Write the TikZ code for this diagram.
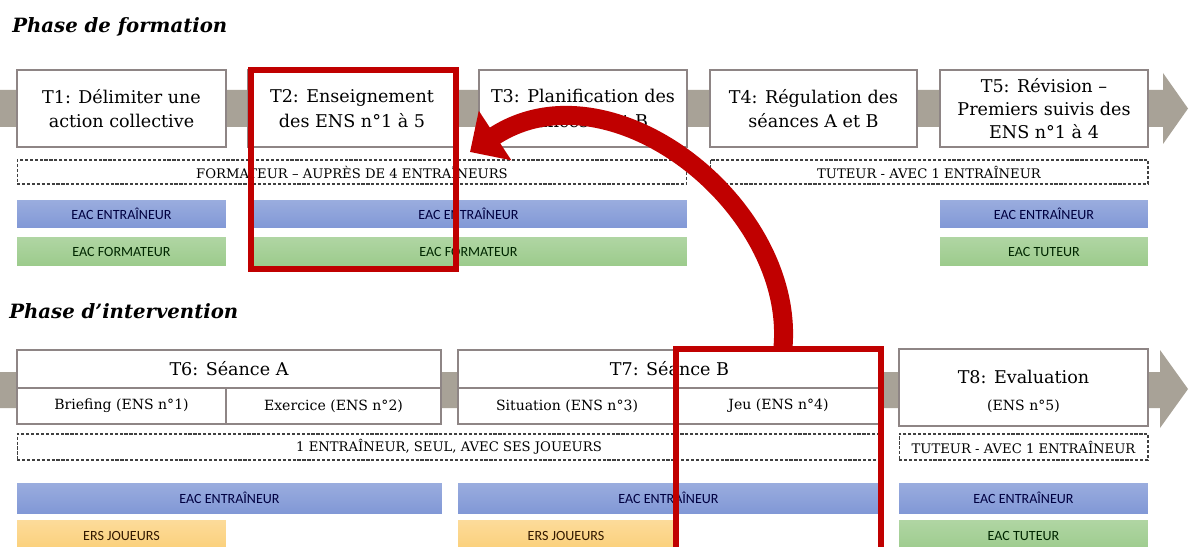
\documentclass[tikz,border=0pt]{standalone}
\usepackage{fontspec}
\setmainfont{DejaVu Serif}
\newfontfamily\barfont{Carlito}
\usepackage{xcolor}
\usepackage{tikz}
\usetikzlibrary{arrows.meta}
\definecolor{bandgray}{HTML}{A8A297}
\definecolor{boxline}{HTML}{8E8585}
\definecolor{eacblue}{HTML}{8198D6}
\definecolor{eacgreen}{HTML}{9CCB8C}
\definecolor{ersorange}{HTML}{FBCF78}
\definecolor{focusred}{HTML}{C00000}

\begin{document}
\begin{tikzpicture}[
    x=0.02cm, y=-0.02cm,
    phase/.style={anchor=west, inner sep=0pt, font=\fontsize{11.2}{13}\selectfont\bfseries\itshape},
    taskbox/.style={draw=boxline, line width=0.8pt, fill=white, align=center, inner sep=1pt, font=\fontsize{10}{14}\selectfont},
    cellbox/.style={draw=boxline, line width=0.8pt, fill=white, inner sep=1pt, minimum height=0.72cm, font=\fontsize{8}{10}\selectfont},
    rolebox/.style={draw=black!75, line width=0.6pt, dash pattern=on 1.8pt off 1pt, fill=white, inner sep=0pt, minimum height=0.48cm, font=\fontsize{7.5}{8}\selectfont},
    bar/.style={inner sep=0pt, minimum height=0.56cm, font=\barfont\fontsize{8}{9}\selectfont},
    eac/.style={bar, top color=eacblue!80!white, bottom color=eacblue, text=blue!25!black},
    eacf/.style={bar, top color=eacgreen!80!white, bottom color=eacgreen, text=green!15!black},
    ers/.style={bar, top color=ersorange!75!white, bottom color=ersorange, text=orange!20!black},
    focusbox/.style={draw=focusred, line width=0.12cm},
    backarrow/.style={draw=focusred, line width=0.38cm, -{Triangle[width=1.15cm, length=0.6cm]}}
]
\clip (0,0) rectangle (1189,547);
\fill[white] (0,0) rectangle (1189,547);

\fill[bandgray] (0,90) -- (1163,90) -- (1163,73) -- (1188,108.5) -- (1163,144) -- (1163,127) -- (0,127) -- cycle;
\fill[bandgray] (0,372) -- (1160,372) -- (1160,350) -- (1188,389) -- (1160,428) -- (1160,408) -- (0,408) -- cycle;

\node[phase] (ph1) at (12,27) {Phase de formation};
\node[phase] (ph2) at (9,311) {Phase d’intervention};

\node[taskbox, minimum width=4.18cm, minimum height=1.54cm] (t1) at (121.5,108.5) {T1: Délimiter une\\action collective};
\node[taskbox, minimum width=4.16cm, minimum height=1.54cm] (t2) at (352,108.5) {T2: Enseignement\\des ENS n°1 à 5};
\node[taskbox, minimum width=4.16cm, minimum height=1.54cm] (t3) at (583,108.5) {T3: Planification des\\séances A et B};
\node[taskbox, minimum width=4.14cm, minimum height=1.54cm] (t4) at (813.5,108.5) {T4: Régulation des\\séances A et B};
\node[taskbox, minimum width=4.16cm, minimum height=1.54cm, font=\fontsize{10}{13}\selectfont] (t5) at (1044,108.5) {T5: Révision –\\Premiers suivis des\\ENS n°1 à 4};

\node[rolebox, minimum width=13.4cm] (r1) at (352,172) {FORMATEUR – AUPRÈS DE 4 ENTRAÎNEURS};
\node[rolebox, minimum width=8.76cm] (r2) at (929,172) {TUTEUR - AVEC 1 ENTRAÎNEUR};

\node[eac, minimum width=4.18cm] (e1) at (121.5,214) {EAC ENTRAÎNEUR};
\node[eac, minimum width=8.74cm] (e2) at (468.5,214) {EAC ENTRAÎNEUR};
\node[eac, minimum width=4.16cm] (e5) at (1044,214) {EAC ENTRAÎNEUR};
\node[eacf, minimum width=4.18cm] (f1) at (121.5,251.5) {EAC FORMATEUR};
\node[eacf, minimum width=8.74cm] (f2) at (468.5,251.5) {EAC FORMATEUR};
\node[eacf, minimum width=4.16cm] (f5) at (1044,251.5) {EAC TUTEUR};

\node[taskbox, minimum width=8.48cm, minimum height=0.76cm] (t6) at (229,369) {T6: Séance A};
\node[cellbox, minimum width=4.18cm] (t6a) at (121.5,406) {Briefing (ENS n°1)};
\node[cellbox, minimum width=4.3cm] (t6b) at (333.5,406) {Exercice (ENS n°2)};
\node[taskbox, minimum width=8.46cm, minimum height=0.76cm] (t7) at (669.5,369) {T7: Séance B};
\node[cellbox, minimum width=4.36cm] (t7a) at (567,406) {Situation (ENS n°3)};
\node[cellbox, minimum width=4.1cm] (t7b) at (778.5,406) {Jeu (ENS n°4)};
\node[taskbox, minimum width=4.98cm, minimum height=1.54cm] (t8) at (1023.5,387.5) {\rule{0pt}{12pt}T8: Evaluation\\[1pt]{\fontsize{8}{10}\selectfont (ENS n°5)}};

\node[rolebox, minimum width=17.28cm, minimum height=0.52cm] (r3) at (449,447) {1 ENTRAÎNEUR, SEUL, AVEC SES JOUEURS};
\node[rolebox, minimum width=4.98cm, minimum height=0.52cm] (r4) at (1023.5,447) {TUTEUR - AVEC 1 ENTRAÎNEUR};

\node[eac, minimum width=8.5cm, minimum height=0.6cm] (e6) at (229.5,498) {EAC ENTRAÎNEUR};
\node[eac, minimum width=8.42cm, minimum height=0.6cm] (e7) at (668.5,498) {EAC ENTRAÎNEUR};
\node[eac, minimum width=4.98cm, minimum height=0.6cm] (e8) at (1023.5,498) {EAC ENTRAÎNEUR};
\node[ers, minimum width=4.18cm, minimum height=0.64cm] (j6) at (121.5,536) {ERS JOUEURS};
\node[ers, minimum width=4.32cm, minimum height=0.64cm] (j7) at (566,536) {ERS JOUEURS};
\node[eacf, minimum width=4.98cm, minimum height=0.64cm] (f8) at (1023.5,536) {EAC TUTEUR};

\node[focusbox, minimum width=4.1cm, minimum height=3.98cm] (focus1) at (353.5,169.5) {};
\node[focusbox, minimum width=4.1cm, minimum height=4.42cm] (focus2) at (778.5,459.5) {};

\coordinate (arrtail) at (783,347);
\coordinate (arrtip) at (470,152);
\draw[backarrow] (arrtail) .. controls (795,205) and (610,60) .. (arrtip);
\end{tikzpicture}
\end{document}
